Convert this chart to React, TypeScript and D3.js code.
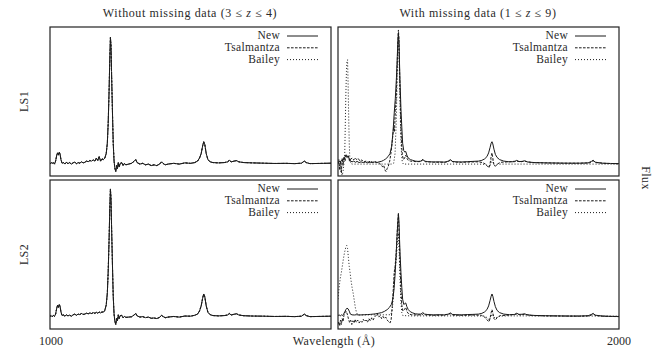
import React from 'react'
import * as d3 from 'd3'

type Pt = [number, number]

// flux is given as a fraction of the panel height (0 = bottom frame, 1 = top frame)
const ls1FullNew: Pt[] = [
	[1000, 0.08], [1004, 0.09], [1008, 0.085], [1012, 0.09], [1016, 0.08], [1020, 0.1], [1024, 0.14], [1027, 0.155], [1030, 0.14], [1033, 0.16], [1036, 0.145], [1039, 0.11],
	[1043, 0.085], [1048, 0.09], [1053, 0.08], [1058, 0.092], [1064, 0.083], [1070, 0.09], [1076, 0.08], [1082, 0.088], [1088, 0.094], [1094, 0.082], [1100, 0.09],
	[1106, 0.086], [1112, 0.095], [1118, 0.088], [1124, 0.092], [1130, 0.1], [1136, 0.096], [1142, 0.104], [1148, 0.1], [1154, 0.108], [1160, 0.1], [1165, 0.12],
	[1170, 0.105], [1175, 0.13], [1180, 0.1], [1185, 0.115], [1190, 0.11], [1195, 0.12], [1200, 0.15], [1204, 0.22], [1207, 0.35], [1210, 0.55], [1213, 0.8],
	[1215, 0.93], [1217, 0.88], [1219, 0.7], [1222, 0.45], [1225, 0.22], [1228, 0.1], [1231, 0.05], [1234, 0.03], [1237, 0.07], [1240, 0.05], [1243, 0.09],
	[1246, 0.06], [1250, 0.085], [1255, 0.09], [1260, 0.07], [1265, 0.085], [1270, 0.075], [1280, 0.08], [1290, 0.085], [1300, 0.1], [1305, 0.11], [1310, 0.09],
	[1320, 0.08], [1330, 0.085], [1340, 0.075], [1350, 0.08], [1360, 0.07], [1370, 0.075], [1380, 0.07], [1390, 0.08], [1397, 0.095], [1402, 0.085], [1410, 0.075],
	[1420, 0.08], [1440, 0.085], [1460, 0.08], [1480, 0.088], [1500, 0.085], [1515, 0.09], [1525, 0.1], [1532, 0.12], [1538, 0.15], [1543, 0.2], [1547, 0.23],
	[1551, 0.21], [1556, 0.15], [1562, 0.11], [1570, 0.095], [1580, 0.09], [1600, 0.088], [1620, 0.09], [1632, 0.095], [1638, 0.105], [1645, 0.095], [1655, 0.1],
	[1664, 0.103], [1672, 0.095], [1690, 0.09], [1720, 0.088], [1760, 0.086], [1800, 0.084], [1840, 0.085], [1870, 0.083], [1895, 0.086], [1905, 0.1], [1912, 0.09],
	[1925, 0.083], [1950, 0.084], [1975, 0.085], [2000, 0.086],
]

const ls2FullNew: Pt[] = [
	[1000, 0.085], [1004, 0.09], [1008, 0.082], [1012, 0.092], [1016, 0.085], [1020, 0.1], [1024, 0.14], [1027, 0.16], [1030, 0.145], [1033, 0.165], [1036, 0.15],
	[1039, 0.115], [1043, 0.09], [1048, 0.094], [1053, 0.086], [1058, 0.095], [1064, 0.088], [1070, 0.093], [1076, 0.086], [1082, 0.095], [1088, 0.1], [1094, 0.092],
	[1100, 0.1], [1106, 0.097], [1112, 0.104], [1118, 0.098], [1124, 0.1], [1130, 0.106], [1136, 0.102], [1142, 0.108], [1148, 0.104], [1154, 0.11], [1160, 0.105],
	[1165, 0.112], [1170, 0.106], [1175, 0.114], [1180, 0.108], [1185, 0.115], [1190, 0.112], [1195, 0.125], [1200, 0.16], [1204, 0.24], [1207, 0.38], [1210, 0.58],
	[1213, 0.82], [1215, 0.94], [1217, 0.88], [1219, 0.7], [1222, 0.45], [1225, 0.22], [1228, 0.1], [1231, 0.05], [1234, 0.03], [1237, 0.07], [1240, 0.055],
	[1243, 0.095], [1246, 0.07], [1250, 0.09], [1255, 0.092], [1260, 0.075], [1265, 0.085], [1270, 0.078], [1280, 0.08], [1290, 0.082], [1300, 0.095], [1305, 0.105],
	[1310, 0.088], [1320, 0.08], [1330, 0.083], [1340, 0.076], [1350, 0.08], [1360, 0.072], [1370, 0.074], [1380, 0.07], [1390, 0.078], [1397, 0.092], [1402, 0.084],
	[1410, 0.076], [1420, 0.08], [1440, 0.084], [1460, 0.08], [1480, 0.087], [1500, 0.086], [1515, 0.092], [1525, 0.1], [1532, 0.12], [1538, 0.155], [1543, 0.205],
	[1547, 0.235], [1551, 0.215], [1556, 0.155], [1562, 0.112], [1570, 0.096], [1580, 0.09], [1600, 0.088], [1620, 0.09], [1632, 0.094], [1638, 0.104], [1645, 0.094],
	[1655, 0.099], [1664, 0.102], [1672, 0.094], [1690, 0.089], [1720, 0.087], [1760, 0.086], [1800, 0.084], [1840, 0.085], [1870, 0.083], [1895, 0.086], [1905, 0.1],
	[1912, 0.09], [1925, 0.083], [1950, 0.084], [1975, 0.085], [2000, 0.086],
]

const ls1MissNew: Pt[] = [
	[1000, 0.085], [1004, 0.1], [1008, 0.09], [1012, 0.105], [1016, 0.1], [1020, 0.11], [1024, 0.125], [1028, 0.14], [1032, 0.13], [1036, 0.135], [1040, 0.115],
	[1045, 0.1], [1050, 0.095], [1056, 0.1], [1062, 0.092], [1068, 0.098], [1075, 0.09], [1082, 0.095], [1090, 0.09], [1098, 0.094], [1106, 0.088], [1114, 0.093],
	[1122, 0.09], [1130, 0.094], [1138, 0.09], [1146, 0.095], [1154, 0.098], [1162, 0.105], [1170, 0.115], [1178, 0.13], [1185, 0.15], [1191, 0.2], [1196, 0.3],
	[1200, 0.42], [1204, 0.52], [1208, 0.66], [1211, 0.8], [1213, 0.9], [1215, 0.96], [1217, 0.9], [1219, 0.75], [1221, 0.62], [1224, 0.45], [1227, 0.33],
	[1230, 0.22], [1234, 0.17], [1238, 0.16], [1241, 0.165], [1245, 0.14], [1250, 0.12], [1258, 0.11], [1266, 0.105], [1275, 0.1], [1285, 0.098], [1295, 0.1],
	[1302, 0.112], [1308, 0.1], [1320, 0.096], [1340, 0.094], [1360, 0.095], [1380, 0.093], [1393, 0.1], [1400, 0.11], [1407, 0.098], [1420, 0.095], [1440, 0.094],
	[1460, 0.096], [1480, 0.098], [1500, 0.1], [1512, 0.105], [1522, 0.115], [1530, 0.13], [1536, 0.155], [1541, 0.19], [1545, 0.22], [1548, 0.23], [1551, 0.215],
	[1555, 0.18], [1560, 0.145], [1566, 0.125], [1575, 0.11], [1590, 0.1], [1610, 0.095], [1628, 0.096], [1636, 0.105], [1644, 0.097], [1655, 0.098], [1664, 0.102],
	[1674, 0.094], [1700, 0.09], [1740, 0.088], [1780, 0.087], [1820, 0.086], [1860, 0.086], [1890, 0.088], [1902, 0.098], [1908, 0.106], [1915, 0.093],
	[1940, 0.086], [1970, 0.084], [2000, 0.083],
]

const ls1MissTsal: Pt[] = [
	[1000, 0.08], [1003, 0.11], [1006, 0.04], [1009, 0.1], [1012, 0.02], [1015, 0.12], [1018, 0.07], [1021, 0.13], [1025, 0.1], [1029, 0.145], [1033, 0.12],
	[1037, 0.135], [1041, 0.1], [1046, 0.115], [1051, 0.12], [1056, 0.108], [1061, 0.122], [1066, 0.11], [1072, 0.118], [1078, 0.1], [1085, 0.108], [1092, 0.095],
	[1100, 0.1], [1108, 0.094], [1116, 0.1], [1124, 0.092], [1132, 0.097], [1140, 0.09], [1148, 0.085], [1154, 0.075], [1159, 0.06], [1163, 0.07], [1167, 0.04],
	[1171, 0.03], [1175, 0.05], [1179, 0.065], [1184, 0.1], [1189, 0.16], [1194, 0.25], [1198, 0.33], [1201, 0.3], [1204, 0.44], [1207, 0.52], [1210, 0.7],
	[1213, 0.9], [1215, 0.98], [1217, 0.92], [1219, 0.72], [1221, 0.55], [1223, 0.38], [1226, 0.22], [1229, 0.14], [1233, 0.11], [1237, 0.12], [1241, 0.14],
	[1245, 0.12], [1250, 0.105], [1258, 0.1], [1266, 0.098], [1280, 0.096], [1295, 0.097], [1302, 0.108], [1310, 0.096], [1330, 0.094], [1360, 0.092], [1385, 0.093],
	[1400, 0.105], [1410, 0.094], [1440, 0.092], [1470, 0.094], [1500, 0.095], [1515, 0.09], [1525, 0.08], [1532, 0.065], [1537, 0.055], [1541, 0.08], [1545, 0.13],
	[1548, 0.155], [1551, 0.12], [1555, 0.075], [1560, 0.065], [1567, 0.08], [1578, 0.092], [1600, 0.094], [1636, 0.1], [1650, 0.095], [1664, 0.1], [1690, 0.09],
	[1740, 0.088], [1800, 0.086], [1860, 0.086], [1895, 0.088], [1908, 0.102], [1918, 0.09], [1950, 0.085], [2000, 0.082],
]

const ls1MissBailey: Pt[] = [
	[1000, 0.09], [1004, 0.08], [1008, 0.05], [1012, 0.02], [1015, 0.005], [1018, 0.03], [1021, 0.08], [1024, 0.15], [1026, 0.35], [1028, 0.55], [1030, 0.7],
	[1032, 0.77], [1034, 0.78], [1036, 0.62], [1038, 0.4], [1040, 0.22], [1042, 0.12], [1045, 0.085], [1050, 0.08], [1100, 0.08], [1150, 0.08], [1190, 0.08],
	[1198, 0.085], [1203, 0.15], [1207, 0.35], [1210, 0.6], [1213, 0.85], [1215, 0.95], [1217, 0.85], [1220, 0.55], [1223, 0.3], [1226, 0.15], [1229, 0.09],
	[1233, 0.08], [1300, 0.08], [1400, 0.08], [1500, 0.08], [1525, 0.078], [1535, 0.065], [1540, 0.06], [1545, 0.09], [1548, 0.11], [1552, 0.09], [1557, 0.07],
	[1565, 0.078], [1580, 0.08], [1700, 0.08], [1800, 0.08], [1900, 0.08], [2000, 0.08],
]

const ls2MissNew: Pt[] = [
	[1000, 0.09], [1004, 0.095], [1008, 0.088], [1012, 0.095], [1016, 0.09], [1020, 0.1], [1024, 0.115], [1028, 0.13], [1032, 0.14], [1036, 0.135], [1040, 0.12],
	[1044, 0.1], [1050, 0.095], [1058, 0.094], [1066, 0.096], [1075, 0.094], [1085, 0.095], [1095, 0.096], [1105, 0.097], [1115, 0.098], [1125, 0.1], [1135, 0.102],
	[1145, 0.106], [1155, 0.11], [1165, 0.118], [1175, 0.13], [1183, 0.145], [1190, 0.165], [1195, 0.2], [1199, 0.26], [1203, 0.36], [1207, 0.5], [1210, 0.62],
	[1213, 0.72], [1215, 0.776], [1217, 0.72], [1219, 0.6], [1221, 0.5], [1224, 0.38], [1227, 0.28], [1230, 0.2], [1234, 0.165], [1238, 0.17], [1241, 0.175],
	[1245, 0.15], [1250, 0.13], [1258, 0.115], [1266, 0.108], [1275, 0.102], [1285, 0.1], [1295, 0.1], [1302, 0.11], [1308, 0.1], [1320, 0.097], [1340, 0.095],
	[1360, 0.096], [1380, 0.094], [1393, 0.1], [1400, 0.108], [1407, 0.098], [1420, 0.096], [1440, 0.095], [1460, 0.097], [1480, 0.098], [1500, 0.1], [1512, 0.105],
	[1522, 0.115], [1530, 0.13], [1536, 0.155], [1541, 0.19], [1545, 0.22], [1548, 0.235], [1551, 0.22], [1555, 0.185], [1560, 0.15], [1566, 0.125], [1575, 0.11],
	[1590, 0.1], [1610, 0.096], [1628, 0.097], [1636, 0.106], [1644, 0.098], [1655, 0.099], [1664, 0.102], [1674, 0.095], [1700, 0.091], [1740, 0.089], [1780, 0.088],
	[1820, 0.087], [1860, 0.087], [1890, 0.089], [1902, 0.098], [1908, 0.105], [1915, 0.093], [1940, 0.087], [1970, 0.085], [2000, 0.084],
]

const ls2MissTsal: Pt[] = [
	[1000, 0.03], [1003, 0.05], [1006, 0.02], [1009, 0.06], [1012, 0.03], [1015, 0.07], [1018, 0.05], [1021, 0.09], [1025, 0.11], [1029, 0.12], [1033, 0.1],
	[1037, 0.07], [1041, 0.045], [1045, 0.06], [1049, 0.03], [1053, 0.055], [1057, 0.04], [1061, 0.065], [1065, 0.045], [1070, 0.06], [1075, 0.04], [1080, 0.055],
	[1085, 0.045], [1090, 0.065], [1095, 0.05], [1100, 0.06], [1105, 0.045], [1110, 0.07], [1115, 0.055], [1120, 0.075], [1125, 0.06], [1130, 0.08], [1135, 0.09],
	[1140, 0.105], [1145, 0.08], [1150, 0.09], [1155, 0.07], [1160, 0.085], [1165, 0.07], [1170, 0.08], [1175, 0.06], [1180, 0.05], [1185, 0.04], [1189, 0.06],
	[1193, 0.15], [1197, 0.28], [1200, 0.38], [1203, 0.42], [1206, 0.48], [1209, 0.58], [1212, 0.7], [1215, 0.77], [1218, 0.62], [1221, 0.42], [1224, 0.26],
	[1227, 0.16], [1231, 0.12], [1236, 0.13], [1241, 0.145], [1246, 0.115], [1252, 0.1], [1262, 0.096], [1280, 0.094], [1300, 0.096], [1305, 0.105], [1312, 0.094],
	[1340, 0.092], [1370, 0.093], [1400, 0.102], [1410, 0.093], [1450, 0.092], [1490, 0.094], [1510, 0.092], [1522, 0.08], [1531, 0.06], [1537, 0.048], [1541, 0.07],
	[1545, 0.11], [1548, 0.13], [1551, 0.11], [1555, 0.07], [1560, 0.06], [1567, 0.078], [1578, 0.09], [1600, 0.092], [1636, 0.1], [1650, 0.094], [1664, 0.099],
	[1690, 0.09], [1740, 0.088], [1800, 0.087], [1860, 0.086], [1895, 0.088], [1908, 0.1], [1918, 0.09], [1950, 0.085], [2000, 0.083],
]

const ls2MissBailey: Pt[] = [
	[1000, 0.2], [1004, 0.28], [1008, 0.34], [1012, 0.38], [1016, 0.43], [1020, 0.48], [1024, 0.52], [1028, 0.55], [1031, 0.56], [1034, 0.54], [1037, 0.48],
	[1040, 0.42], [1043, 0.38], [1046, 0.33], [1050, 0.28], [1054, 0.24], [1058, 0.19], [1062, 0.14], [1066, 0.11], [1070, 0.095], [1080, 0.094], [1120, 0.095],
	[1160, 0.095], [1188, 0.096], [1193, 0.13], [1197, 0.22], [1200, 0.33], [1203, 0.4], [1206, 0.44], [1209, 0.52], [1212, 0.6], [1215, 0.64], [1218, 0.5],
	[1221, 0.32], [1224, 0.18], [1227, 0.11], [1231, 0.09], [1260, 0.088], [1350, 0.088], [1450, 0.088], [1520, 0.087], [1532, 0.075], [1538, 0.06], [1543, 0.08],
	[1548, 0.1], [1553, 0.085], [1560, 0.07], [1570, 0.085], [1600, 0.088], [1700, 0.088], [1800, 0.087], [1900, 0.087], [2000, 0.086],
]

// in the complete-data panels the three reconstructions coincide
const ls1FullTsal = ls1FullNew
const ls1FullBailey = ls1FullNew
const ls2FullTsal = ls2FullNew
const ls2FullBailey = ls2FullNew

const seriesNames = ['New', 'Tsalmantza', 'Bailey']
const rowLabels = ['LS1', 'LS2']
const xTickLabels = ['1000', '2000']

const dashes = ['none', '2.6,1.4', '1,2']
const ink = '#1a1a1a'
const textInk = '#2a2a2a'
const font = '"Liberation Serif", "DejaVu Serif", serif'

const cols = [[50, 331], [338, 619]]
const rows = [[27, 176], [180, 329]]

const panels = [
	{ r: 0, c: 0, lines: [ls1FullNew, ls1FullTsal, ls1FullBailey] },
	{ r: 0, c: 1, lines: [ls1MissNew, ls1MissTsal, ls1MissBailey] },
	{ r: 1, c: 0, lines: [ls2FullNew, ls2FullTsal, ls2FullBailey] },
	{ r: 1, c: 1, lines: [ls2MissNew, ls2MissTsal, ls2MissBailey] },
]

function Title(props: { x: number, lead: string, lo: string, hi: string }) {
	return (
		<text x={props.x} y={17} textAnchor="middle" fontSize={12} letterSpacing={0.6} fill={textInk}>
			{props.lead} ({props.lo} ≤ <tspan fontStyle="italic">z</tspan> ≤ {props.hi})
		</text>
	)
}

export default function App() {
	return (
		<svg width={670} height={356} style={{ position: 'absolute', left: 0, top: 0 }} fontFamily={font}>
			<defs>
				{panels.map((p, i) => (
					<clipPath id={`clip-${i}`} key={i}>
						<rect x={cols[p.c][0]} y={rows[p.r][0]} width={cols[p.c][1] - cols[p.c][0]} height={rows[p.r][1] - rows[p.r][0]} />
					</clipPath>
				))}
			</defs>

			<Title x={190} lead="Without missing data" lo="3" hi="4" />
			<Title x={478} lead="With missing data" lo="1" hi="9" />

			{panels.map((p, i) => {
				const x = d3.scaleLinear().domain([1000, 2000]).range(cols[p.c])
				const y = d3.scaleLinear().domain([0, 1]).range([rows[p.r][1], rows[p.r][0]])
				const line = d3.line<Pt>().x(d => x(d[0])).y(d => y(d[1]))
				const right = cols[p.c][1]
				const top = rows[p.r][0]
				return (
					<g key={i}>
						<g clipPath={`url(#clip-${i})`}>
							{[2, 1, 0].map(k => (
								<path key={k} d={line(p.lines[k]) || ''} fill="none" stroke={ink} strokeWidth={1} strokeDasharray={dashes[k]} />
							))}
						</g>
						<rect x={cols[p.c][0]} y={top} width={right - cols[p.c][0]} height={rows[p.r][1] - top} fill="none" stroke="#222" strokeWidth={1.2} />
						{seriesNames.map((name, k) => {
							const by = top + 12 + k * 11.8
							return (
								<g key={name}>
									<text x={right - 51} y={by} textAnchor="end" fontSize={11.5} letterSpacing={0.3} fill={textInk}>{name}</text>
									<line x1={right - 44} x2={right - 13} y1={by - 3} y2={by - 3} stroke={ink} strokeWidth={1} strokeDasharray={dashes[k]} />
								</g>
							)
						})}
					</g>
				)
			})}

			{rowLabels.map((lab, i) => (
				<text key={lab} transform={`translate(27.5,${(rows[i][0] + rows[i][1]) / 2}) rotate(-90)`} textAnchor="middle" fontSize={12} letterSpacing={0.4} fill={textInk}>{lab}</text>
			))}
			<text transform="translate(641.5,178) rotate(90)" textAnchor="middle" fontSize={12} letterSpacing={0.4} fill={textInk}>Flux</text>

			<text x={51} y={345} textAnchor="middle" fontSize={12} fill={textInk}>{xTickLabels[0]}</text>
			<text x={619} y={345} textAnchor="middle" fontSize={12} fill={textInk}>{xTickLabels[1]}</text>
			<text x={334} y={345} textAnchor="middle" fontSize={12} letterSpacing={0.4} fill={textInk}>Wavelength (Å)</text>
		</svg>
	)
}
